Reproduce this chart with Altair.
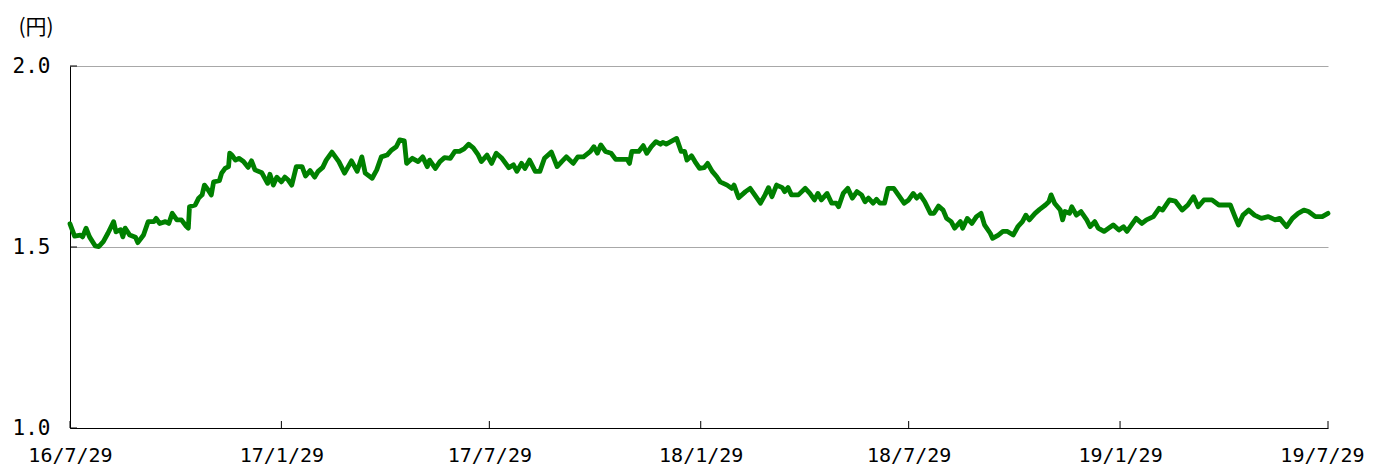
import altair as alt
import pandas as pd

START = "2016-07-29"

DAY = [0, 4, 9, 11, 14, 17, 22, 25, 29, 33, 38, 40, 44, 46, 48, 52, 57, 59, 64, 68,
       73, 75, 78, 83, 86, 89, 93, 97, 101, 103, 104, 109, 112, 115, 117, 120, 123, 125, 130, 132,
       135, 138, 139, 141, 144, 147, 151, 155, 158, 161, 167, 172, 174, 177, 180, 184, 187, 190, 193, 197,
       202, 205, 209, 213, 216, 220, 223,
       228, 234, 239, 245, 250, 254, 257, 263, 267, 271, 276, 280, 284, 287, 291, 293, 298, 303, 307, 311,
       313, 318, 322, 326, 331, 335, 339, 343, 347, 351, 355, 358, 363, 367, 371, 376, 382, 386, 389, 393,
       396, 400, 405, 409, 413, 419, 424, 428, 432, 438, 442, 447,
       453, 456, 459, 462, 466, 471, 475, 480, 485, 487, 489, 495, 499, 502, 506, 510, 514, 516, 519, 528,
       532, 535, 537, 541, 544, 548, 552, 555, 559, 563, 566, 572, 576, 578, 582, 588, 592, 596, 601, 605,
       608, 611, 615, 620, 622, 625, 628, 634, 640, 644, 648, 651, 654, 659, 663, 667, 669, 673, 677,
       681, 685, 689, 692, 695, 699, 702, 705, 709, 712, 717, 721, 726, 730, 734, 737, 740, 744, 749, 752,
       756, 760, 763, 767, 770, 775, 777, 781, 785, 789, 793, 796, 801, 803, 808, 812, 816, 821, 825, 829,
       832, 835, 840, 844, 849, 852, 854, 857, 862, 864, 866, 870, 872, 876, 880, 885, 888, 892, 895, 900,
       904,
       908, 913, 917, 920, 924, 928, 933, 937, 943, 948, 951, 957, 962, 968, 973, 978, 982, 987, 994, 1000,
       1010, 1014, 1017, 1021, 1026, 1031, 1037, 1043, 1049, 1053, 1059, 1064, 1069, 1074, 1078, 1084, 1090, 1095]

VALUE = [1.564, 1.530, 1.533, 1.528, 1.552, 1.528, 1.503, 1.501, 1.515, 1.538,
         1.570, 1.542, 1.548, 1.528, 1.552, 1.533, 1.527, 1.512, 1.533, 1.570,
         1.570, 1.579, 1.565, 1.570, 1.565, 1.593, 1.575, 1.575, 1.558, 1.552,
         1.611, 1.616, 1.635, 1.644, 1.671, 1.659, 1.644, 1.680, 1.683, 1.704,
         1.717, 1.722, 1.759, 1.754, 1.740, 1.745, 1.736, 1.720, 1.738, 1.713,
         1.705, 1.676, 1.701, 1.671, 1.693, 1.680, 1.693, 1.685, 1.671, 1.722,
         1.722, 1.696, 1.711, 1.693, 1.709, 1.720, 1.740,
         1.762, 1.736, 1.704, 1.738, 1.709, 1.749, 1.704, 1.690, 1.713, 1.749,
         1.754, 1.768, 1.777, 1.796, 1.793, 1.731, 1.745, 1.736, 1.749, 1.722,
         1.740, 1.717, 1.736, 1.747, 1.745, 1.764, 1.764, 1.771, 1.784, 1.774,
         1.756, 1.736, 1.754, 1.731, 1.759, 1.745, 1.719, 1.727, 1.709, 1.731,
         1.717, 1.740, 1.709, 1.709, 1.745, 1.762, 1.722, 1.736, 1.749, 1.731,
         1.749, 1.749,
         1.764, 1.777, 1.759, 1.782, 1.764, 1.759, 1.742, 1.742, 1.742, 1.731,
         1.764, 1.764, 1.780, 1.759, 1.777, 1.791, 1.784, 1.789, 1.784, 1.800,
         1.764, 1.764, 1.740, 1.752, 1.736, 1.717, 1.719, 1.731, 1.709, 1.694,
         1.680, 1.671, 1.662, 1.671, 1.636, 1.653, 1.662, 1.644, 1.621, 1.644,
         1.664, 1.639, 1.671, 1.664, 1.653, 1.664, 1.644, 1.644, 1.662, 1.648,
         1.630, 1.648, 1.630, 1.648, 1.621, 1.621, 1.611, 1.648, 1.662,
         1.635, 1.653, 1.644, 1.625, 1.635, 1.621, 1.632, 1.621, 1.621, 1.662,
         1.662, 1.644, 1.621, 1.630, 1.648, 1.635, 1.644, 1.625, 1.593, 1.593,
         1.613, 1.602, 1.579, 1.570, 1.552, 1.570, 1.552, 1.579, 1.565, 1.584,
         1.593, 1.561, 1.538, 1.524, 1.533, 1.543, 1.543, 1.533, 1.556, 1.570,
         1.588, 1.575, 1.593, 1.604, 1.616, 1.625, 1.644, 1.621, 1.602, 1.575,
         1.598, 1.593, 1.611, 1.588, 1.598, 1.575, 1.556, 1.570, 1.552, 1.543,
         1.552,
         1.561, 1.547, 1.556, 1.543, 1.561, 1.579, 1.565, 1.575, 1.584, 1.607,
         1.602, 1.630, 1.627, 1.602, 1.616, 1.639, 1.611, 1.630, 1.630, 1.616,
         1.616, 1.584, 1.561, 1.588, 1.602, 1.588, 1.579, 1.584, 1.575, 1.579,
         1.556, 1.579, 1.593, 1.602, 1.598, 1.584, 1.584, 1.593]

TICK_DATES = [(2016, 7, 29), (2017, 1, 29), (2017, 7, 29), (2018, 1, 29),
              (2018, 7, 29), (2019, 1, 29), (2019, 7, 29)]
Y_TICKS = [1.0, 1.5, 2.0]
Y_TITLE = "(円)"

df = pd.DataFrame({
    "date": pd.to_datetime(START) + pd.to_timedelta(DAY, unit="D"),
    "value": VALUE,
})
ticks_x = pd.DataFrame({"date": pd.to_datetime([f"{y}-{m:02d}-{d:02d}" for y, m, d in TICK_DATES])})
ticks_y = pd.DataFrame({"value": Y_TICKS})

W, H = 1258, 362
dt_values = [alt.DateTime(year=y, month=m, date=d) for y, m, d in TICK_DATES]
x_scale = alt.Scale(domain=[dt_values[0], dt_values[-1]])
y_scale = alt.Scale(domain=[1.0, 2.0], nice=False, zero=False)

line = alt.Chart(df).mark_line(
    color="#008000", strokeWidth=4.8, strokeJoin="round", strokeCap="round"
).encode(
    x=alt.X("date:T", scale=x_scale, axis=alt.Axis(
        values=dt_values, format="%y/%-m/%-d", title=None, grid=False,
        tickSize=0, labelPadding=17, labelFlush=False, labelOverlap=False,
        labelOffset={"condition": {"test": "datum.index == 1", "value": -6}, "value": 0},
        labelFont="DejaVu Sans Mono", labelFontSize=20, labelColor="black",
        domainColor="black", domainWidth=1)),
    y=alt.Y("value:Q", scale=y_scale, axis=alt.Axis(
        values=Y_TICKS, format=".1f", grid=True, gridColor="#a8a8a8", gridWidth=1,
        tickSize=0, labelPadding=20,
        labelFont="DejaVu Sans Mono", labelFontSize=21, labelColor="black",
        domainColor="black", domainWidth=1,
        title=Y_TITLE, titleAngle=0, titleX=-52, titleY=-39, titleAlign="left",
        titleBaseline="middle", titleFont="Noto Sans CJK JP", titleFontSize=21,
        titleFontWeight="normal", titleColor="black")),
)

xt = alt.Chart(ticks_x).mark_rule(color="black", strokeWidth=1).encode(
    x=alt.X("date:T", scale=x_scale), y=alt.value(H), y2=alt.value(H - 7))
yt = alt.Chart(ticks_y).mark_rule(color="black", strokeWidth=1).encode(
    y=alt.Y("value:Q", scale=y_scale), x=alt.value(0), x2=alt.value(7))

chart = alt.layer(line, xt, yt).properties(
    width=W, height=H,
    autosize=alt.AutoSizeParams(type="none"),
    padding={"left": 62, "top": 58, "right": 39, "bottom": 38},
).configure_view(stroke=None)

chart.save("out.html", embed_options={"renderer": "svg", "actions": False})
